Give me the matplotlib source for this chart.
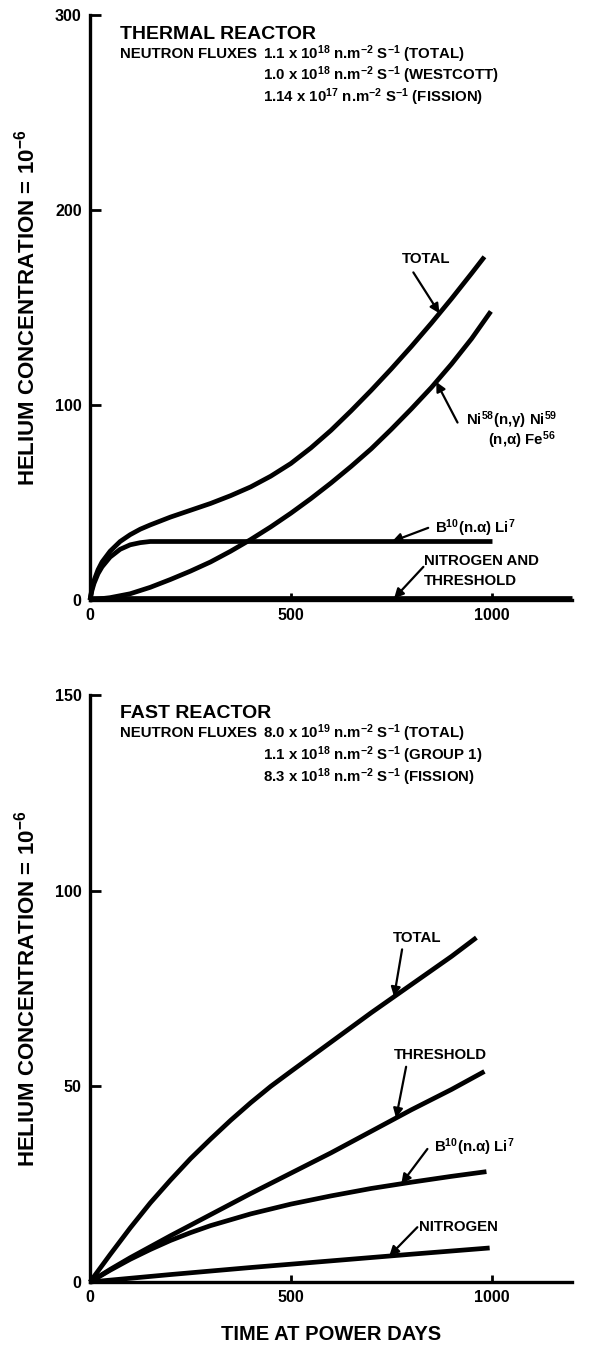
import matplotlib
matplotlib.use("Agg")
import matplotlib.pyplot as plt
import numpy as np

plt.rcParams['font.family'] = ['Liberation Sans', 'DejaVu Sans']
plt.rcParams['font.weight'] = 'bold'
plt.rcParams['mathtext.fontset'] = 'custom'
plt.rcParams['mathtext.rm'] = 'Liberation Sans:bold'
plt.rcParams['mathtext.bf'] = 'Liberation Sans:bold'
plt.rcParams['mathtext.it'] = 'Liberation Sans:bold'
plt.rcParams['mathtext.default'] = 'bf'

# ---- thermal reactor (top) ----
th_total_days = [0, 5, 10, 20, 30, 50, 75, 100, 125, 150, 200, 250, 300, 350, 400, 450, 500,
                 550, 600, 650, 700, 750, 800, 850, 900, 950, 982]
th_total = [0, 6, 10, 15.5, 19.5, 25, 30, 33.5, 36.3, 38.5, 42.5, 46, 49.5, 53.5, 58, 63.5, 70,
            78, 87, 97, 107.5, 118.5, 130, 142, 154.5, 167.5, 176]
th_ni_days = [0, 50, 100, 150, 200, 250, 300, 350, 400, 450, 500, 550, 600, 650, 700, 750,
              800, 850, 900, 950, 998]
th_ni = [0, 1.2, 3.2, 6.5, 10.5, 14.8, 19.5, 25, 31, 37.5, 44.5, 52, 60, 68.5, 77.5, 87.5,
         98, 109, 121, 134, 148]
th_b10_days = [0, 5, 10, 20, 30, 50, 75, 100, 125, 150, 200, 1002]
th_b10 = [0, 5, 8.5, 13.5, 17, 22, 26, 28.3, 29.4, 30, 30, 30]
th_nit_days = [0, 1200]
th_nit = [0.8, 0.8]

# ---- fast reactor (bottom) ----
fa_total_days = [0, 50, 100, 150, 200, 250, 300, 350, 400, 450, 500, 600, 700, 800, 900, 962]
fa_total = [0, 7, 13.8, 20.2, 26, 31.5, 36.5, 41.3, 45.8, 50, 53.8, 61.3, 68.8, 76, 83.2, 88]
fa_thr_days = [0, 50, 100, 200, 300, 400, 500, 600, 700, 800, 900, 982]
fa_thr = [0, 3.2, 6.2, 11.8, 17.2, 22.6, 27.8, 33, 38.5, 44, 49.2, 53.8]
fa_b10_days = [0, 50, 100, 150, 200, 250, 300, 400, 500, 600, 700, 800, 900, 987]
fa_b10 = [0, 3, 5.8, 8.3, 10.6, 12.6, 14.4, 17.4, 19.9, 22, 23.9, 25.5, 27, 28.2]
fa_nit_days = [0, 200, 400, 600, 800, 995]
fa_nit = [0, 1.9, 3.7, 5.4, 7.1, 8.7]

LW = 3.4
FS = 10.8
fig = plt.figure(figsize=(5.98, 13.47), dpi=100)
ax1 = fig.add_axes([90/598, 1 - 600/1347, 482/598, 585/1347])
ax2 = fig.add_axes([90/598, 1 - 1282/1347, 482/598, 587/1347])


def style(ax, ymax, ystep):
    ax.set_xlim(0, 1200)
    ax.set_ylim(0, ymax)
    for s in ['top', 'right']:
        ax.spines[s].set_visible(False)
    for s in ['left', 'bottom']:
        ax.spines[s].set_linewidth(2.4)
    ax.set_xticks([0, 500, 1000])
    ax.set_yticks(np.arange(0, ymax + 1, ystep))
    ax.tick_params(axis='y', direction='in', length=8, width=2, labelsize=11.5, pad=6)
    ax.tick_params(axis='x', direction='in', length=5, width=2, labelsize=11.5, pad=6)
    for lab in ax.get_xticklabels() + ax.get_yticklabels():
        lab.set_fontweight('bold')
    ax.set_ylabel('HELIUM CONCENTRATION = 10$^{-6}$', fontsize=16, fontweight='bold', labelpad=11)


def arrow(ax, tail, tip_day, days, vals):
    tip = (tip_day, np.interp(tip_day, days, vals))
    ax.annotate('', xy=tip, xytext=tail,
                arrowprops=dict(arrowstyle='-|>', lw=1.6, color='black', mutation_scale=14,
                                shrinkA=0, shrinkB=0))


style(ax1, 300, 100)
for d, v in [(th_total_days, th_total), (th_ni_days, th_ni), (th_b10_days, th_b10),
             (th_nit_days, th_nit)]:
    ax1.plot(d, v, color='black', lw=LW, clip_on=False, solid_capstyle='butt',
             solid_joinstyle='round')

ax1.text(75, 290, 'THERMAL REACTOR', fontsize=14, fontweight='bold', va='center')
ax1.text(75, 280, 'NEUTRON FLUXES', fontsize=FS, fontweight='bold', va='center')
ax1.text(430, 280, '1.1 x 10$^{18}$ n.m$^{-2}$ S$^{-1}$ (TOTAL)', fontsize=FS, va='center')
ax1.text(430, 269, '1.0 x 10$^{18}$ n.m$^{-2}$ S$^{-1}$ (WESTCOTT)', fontsize=FS, va='center')
ax1.text(430, 258, '1.14 x 10$^{17}$ n.m$^{-2}$ S$^{-1}$ (FISSION)', fontsize=FS, va='center')

ax1.text(837, 175, 'TOTAL', fontsize=FS, ha='center', va='center')
arrow(ax1, (805, 168), 870, th_total_days, th_total)
ax1.text(935, 92, 'Ni$^{58}$(n,\u03b3) Ni$^{59}$', fontsize=FS, va='center')
ax1.text(1160, 82, '(n,\u03b1) Fe$^{56}$', fontsize=FS, va='center', ha='right')
arrow(ax1, (915, 91), 862, th_ni_days, th_ni)
ax1.text(860, 37, 'B$^{10}$(n.\u03b1) Li$^{7}$', fontsize=FS, va='center')
arrow(ax1, (842, 37), 752, th_b10_days, th_b10)
ax1.text(832, 20, 'NITROGEN AND', fontsize=FS, va='center')
ax1.text(832, 10, 'THRESHOLD', fontsize=FS, va='center')
arrow(ax1, (830, 17), 757, th_nit_days, th_nit)

style(ax2, 150, 50)
for d, v in [(fa_total_days, fa_total), (fa_thr_days, fa_thr), (fa_b10_days, fa_b10),
             (fa_nit_days, fa_nit)]:
    ax2.plot(d, v, color='black', lw=LW, clip_on=False, solid_capstyle='butt',
             solid_joinstyle='round')

ax2.text(75, 145.3, 'FAST REACTOR', fontsize=14, fontweight='bold', va='center')
ax2.text(75, 140.2, 'NEUTRON FLUXES', fontsize=FS, fontweight='bold', va='center')
ax2.text(430, 140.2, '8.0 x 10$^{19}$ n.m$^{-2}$ S$^{-1}$ (TOTAL)', fontsize=FS, va='center')
ax2.text(430, 134.6, '1.1 x 10$^{18}$ n.m$^{-2}$ S$^{-1}$ (GROUP 1)', fontsize=FS, va='center')
ax2.text(430, 129.0, '8.3 x 10$^{18}$ n.m$^{-2}$ S$^{-1}$ (FISSION)', fontsize=FS, va='center')

ax2.text(815, 88, 'TOTAL', fontsize=FS, ha='center', va='center')
arrow(ax2, (777, 85), 757, fa_total_days, fa_total)
ax2.text(757, 58, 'THRESHOLD', fontsize=FS, va='center')
arrow(ax2, (787, 55), 762, fa_thr_days, fa_thr)
ax2.text(857, 34.5, 'B$^{10}$(n.\u03b1) Li$^{7}$', fontsize=FS, va='center')
arrow(ax2, (840, 34), 775, fa_b10_days, fa_b10)
ax2.text(820, 14, 'NITROGEN', fontsize=FS, va='center')
arrow(ax2, (815, 14), 745, fa_nit_days, fa_nit)

ax2.set_xlabel('TIME AT POWER DAYS', fontsize=14.5, fontweight='bold', labelpad=14)

fig.savefig('out.png', dpi=100)
